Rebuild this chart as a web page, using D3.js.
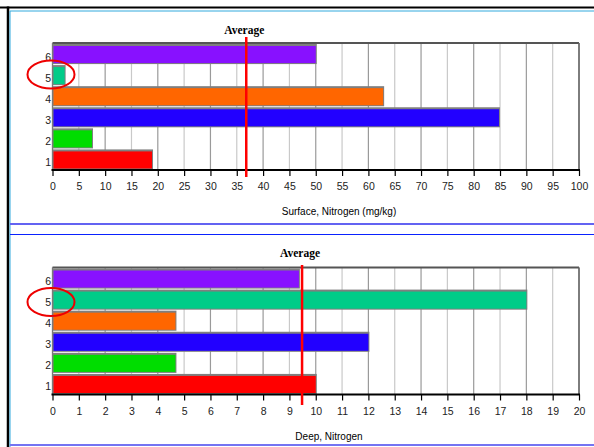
<!DOCTYPE html>
<html><head><meta charset="utf-8">
<script src="https://cdn.jsdelivr.net/npm/d3@7"></script>
<style>body{margin:0;background:#fff}svg{display:block}</style>
</head><body>
<script>
const categories = ["1","2","3","4","5","6"];
const colors = ["#ff0000","#00dd00","#2200ff","#ff6600","#00cc88","#8811ff"];
const surfaceValues = [18.9, 7.5, 84.8, 62.8, 2.3, 50];
const surfaceAverage = 36.8;
const surfaceTicks = d3.range(0, 101, 5);
const deepValues = [10, 4.67, 12, 4.67, 18, 9.36];
const deepAverage = 9.48;
const deepTicks = d3.range(0, 21, 1);
const titles = ["Surface, Nitrogen (mg/kg)", "Deep, Nitrogen"];

const W = 594, H = 447;
const svg = d3.select("body").append("svg").attr("width", W).attr("height", H);

// frame
svg.append("line").attr("x1",0).attr("x2",W).attr("y1",7.5).attr("y2",7.5).attr("stroke","#000").attr("stroke-width",2);
svg.append("line").attr("x1",8).attr("x2",8).attr("y1",6.5).attr("y2",H).attr("stroke","#000").attr("stroke-width",2.5);
svg.append("line").attr("x1",10).attr("x2",W).attr("y1",11).attr("y2",11).attr("stroke","#33aadd").attr("stroke-width",1);
svg.append("line").attr("x1",10).attr("x2",10).attr("y1",11).attr("y2",H).attr("stroke","#33aadd").attr("stroke-width",1);
svg.append("line").attr("x1",10).attr("x2",W).attr("y1",224).attr("y2",224).attr("stroke","#6363f2").attr("stroke-width",2);
svg.append("line").attr("x1",10).attr("x2",W).attr("y1",234.5).attr("y2",234.5).attr("stroke","#0a22ff").attr("stroke-width",1);
svg.append("line").attr("x1",10).attr("x2",W).attr("y1",445).attr("y2",445).attr("stroke","#7474f2").attr("stroke-width",2);

function panel(dy, values, avg, ticks, maxV, title, titleX, lineTop, lineBot, textY, ellipseY) {
  const g = svg.append("g").attr("transform", `translate(0,${dy})`);
  const x0 = 52.5, x1 = 579, yTop = 43, yBot = 170;
  const x = d3.scaleLinear().domain([0, maxV]).range([x0, x1]);
  const y = d3.scaleBand().domain(categories.slice().reverse()).range([46, 168.5]).paddingInner(0.19).paddingOuter(0.0);

  // gridlines
  g.selectAll(".grid").data(ticks).enter().append("line")
    .attr("x1", d => x(d)).attr("x2", d => x(d))
    .attr("y1", yTop).attr("y2", yBot)
    .attr("stroke", (d,i) => i % 2 ? "#c9c9c9" : "#9a9a9a").attr("stroke-width", 1.2);

  // frame of plot
  g.append("line").attr("x1",x0).attr("x2",x1).attr("y1",yTop).attr("y2",yTop).attr("stroke","#555").attr("stroke-width",2);
  g.append("line").attr("x1",x1).attr("x2",x1).attr("y1",yTop).attr("y2",yBot).attr("stroke","#666").attr("stroke-width",1.5);
  g.append("line").attr("x1",x0).attr("x2",x0).attr("y1",yTop).attr("y2",yBot).attr("stroke","#777").attr("stroke-width",1.2);

  // bars (shadow + fill)
  const data = categories.map((c,i) => ({c, v: values[i], col: colors[i]}));
  g.selectAll(".shadow").data(data).enter().append("rect")
    .attr("x", x(0)).attr("y", d => y(d.c) - 2)
    .attr("width", d => x(d.v) - x(0) + 1).attr("height", y.bandwidth() + 3)
    .attr("fill", "#7f7f7f");
  g.selectAll(".bar").data(data).enter().append("rect")
    .attr("x", x(0) + 1).attr("y", d => y(d.c))
    .attr("width", d => Math.max(0, x(d.v) - x(0) - 1)).attr("height", y.bandwidth())
    .attr("fill", d => d.col);

  // bottom axis
  const ax = g.append("g").attr("transform", `translate(0,${yBot})`)
    .call(d3.axisBottom(x).tickValues(ticks).tickSize(6).tickPadding(7).tickFormat(d3.format("d")));
  ax.select(".domain").remove();
  ax.selectAll(".tick line").attr("stroke","#000").attr("stroke-width",1.2);
  ax.selectAll(".tick text").attr("font-family","Liberation Sans, Arial, sans-serif").attr("font-size",10.5).attr("fill","#222");
  g.append("line").attr("x1",x0-1).attr("x2",x1+1).attr("y1",yBot).attr("y2",yBot).attr("stroke","#000").attr("stroke-width",2);

  // left labels
  g.selectAll(".cl").data(categories).enter().append("text")
    .attr("x", 51).attr("y", d => y(d) + y.bandwidth()/2 + 6)
    .attr("text-anchor","end").attr("font-family","Liberation Sans, Arial, sans-serif")
    .attr("font-size",10.5).attr("fill","#222").text(d => d);

  // average line
  g.append("line").attr("x1", x(avg)).attr("x2", x(avg)).attr("y1", lineTop).attr("y2", lineBot)
    .attr("stroke","#ff0000").attr("stroke-width",2.5);
  g.append("text").attr("x", x(avg) - 2).attr("y", textY)
    .attr("text-anchor","middle").attr("font-family","Liberation Serif, Times New Roman, serif")
    .attr("font-weight","bold").attr("font-size",11.5).attr("fill","#000").text("Average");

  // title
  g.append("text").attr("x", titleX).attr("y", 215).attr("text-anchor","middle")
    .attr("font-family","Liberation Sans, Arial, sans-serif").attr("font-size",10).attr("fill","#000").text(title);

  // ellipse highlight
  g.append("ellipse").attr("cx",51).attr("cy",ellipseY).attr("rx",23.5).attr("ry",14)
    .attr("fill","none").attr("stroke","#ee0000").attr("stroke-width",2);
}

panel(0, surfaceValues, surfaceAverage, surfaceTicks, 100, titles[0], 339, 37, 177, 33.5, 74.5);
panel(224.5, deepValues, deepAverage, deepTicks, 20, titles[1], 329, 40.5, 180.5, 32.5, 77.5);
</script>
</body></html>
